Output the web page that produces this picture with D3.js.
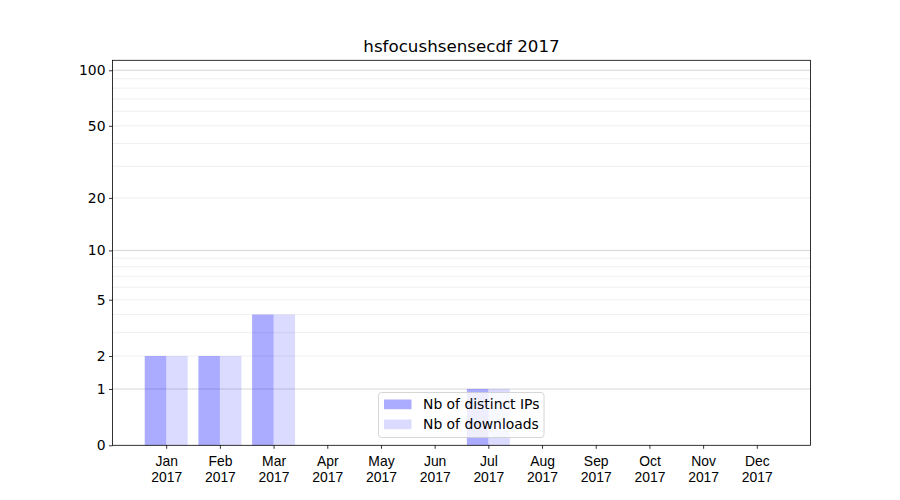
<!DOCTYPE html>
<html><head><meta charset="utf-8">
<script src="https://cdn.jsdelivr.net/npm/d3@7"></script>
<style>body{margin:0;background:#fff}svg{font-family:"DejaVu Sans",sans-serif}</style>
</head><body><svg id="c" width="900" height="500"></svg>
<script>
const months = ["Jan","Feb","Mar","Apr","May","Jun","Jul","Aug","Sep","Oct","Nov","Dec"];
const year = "2017";
const distinctIPs = [2,2,4,0,0,0,1,0,0,0,0,0];
const downloads   = [2,2,4,0,0,0,1,0,0,0,0,0];
const yTicks = [0,1,2,5,10,20,50,100];
const majorGrid = [1,10,100];
const minorGrid = [2,3,4,5,6,7,8,9,20,30,40,50,60,70,80,90];
const title = "hsfocushsensecdf 2017";
const seriesNames = ["Nb of distinct IPs","Nb of downloads"];

const svg = d3.select("#c");
const L=112.5,R=810.5,T=60.3,B=445.3;
const x = d3.scaleLinear().domain([-1,12]).range([L,R]);
const y = d3.scaleSymlog().constant(1).domain([0,113.2]).range([B,T]);

const g = svg.append("g");
g.selectAll(".mg").data(minorGrid).enter().append("line")
 .attr("x1",L).attr("x2",R).attr("y1",d=>y(d)).attr("y2",d=>y(d))
 .attr("stroke","#ebebeb").attr("stroke-width",0.8);
g.selectAll(".Mg").data(majorGrid).enter().append("line")
 .attr("x1",L).attr("x2",R).attr("y1",d=>y(d)).attr("y2",d=>y(d))
 .attr("stroke","#cccccc").attr("stroke-width",0.8);

const bw = 0.4;
g.selectAll(".b1").data(distinctIPs).enter().append("rect")
 .attr("x",(d,i)=>x(i-bw)).attr("width",(d,i)=>x(i)-x(i-bw))
 .attr("y",d=>y(d)).attr("height",d=>B-y(d)).attr("fill","#0000ff").attr("fill-opacity",0.33);
g.selectAll(".b2").data(downloads).enter().append("rect")
 .attr("x",(d,i)=>x(i)).attr("width",(d,i)=>x(i+bw)-x(i))
 .attr("y",d=>y(d)).attr("height",d=>B-y(d)).attr("fill","#0000ff").attr("fill-opacity",0.14);

// axes
const ya = svg.append("g").attr("transform",`translate(${L},0)`)
 .call(d3.axisLeft(y).tickValues(yTicks).tickFormat(d3.format("d")).tickSize(3.5).tickPadding(3.5));
const xa = svg.append("g").attr("transform",`translate(0,${B})`)
 .call(d3.axisBottom(x).tickValues(d3.range(12)).tickFormat("").tickSize(3.5));
[ya,xa].forEach(a=>{a.select(".domain").remove();a.selectAll("line").attr("stroke","#000").attr("stroke-width",0.8);
 a.selectAll("text").attr("font-size","13.9px").attr("fill","#000").attr("font-family","DejaVu Sans");});
xa.selectAll(".tick").each(function(d){
 const t=d3.select(this).append("text").attr("text-anchor","middle").attr("font-size","13.9px").attr("fill","#000");
 t.append("tspan").attr("x",0).attr("y",21).text(months[d]);
 t.append("tspan").attr("x",0).attr("y",37).text(year);
});
svg.append("rect").attr("x",L).attr("y",T).attr("width",R-L).attr("height",B-T)
 .attr("fill","none").attr("stroke","#000").attr("stroke-width",0.8);

svg.append("text").attr("x",(L+R)/2).attr("y",52).attr("text-anchor","middle")
 .attr("font-size","16.7px").text(title);

// legend
const lg = svg.append("g").attr("transform","translate(378.5,392.5)");
lg.append("rect").attr("width",165.5).attr("height",45).attr("rx",3)
 .attr("fill","#fff").attr("fill-opacity",0.8).attr("stroke","#cccccc").attr("stroke-width",0.8);
seriesNames.forEach((n,i)=>{
 lg.append("rect").attr("x",5.5).attr("y",7+i*20).attr("width",27.5).attr("height",9.7)
  .attr("fill","#0000ff").attr("fill-opacity",i?0.14:0.33);
 lg.append("text").attr("x",44.5).attr("y",16.5+i*20).attr("font-size","13.9px").text(n);
});
</script></body></html>
